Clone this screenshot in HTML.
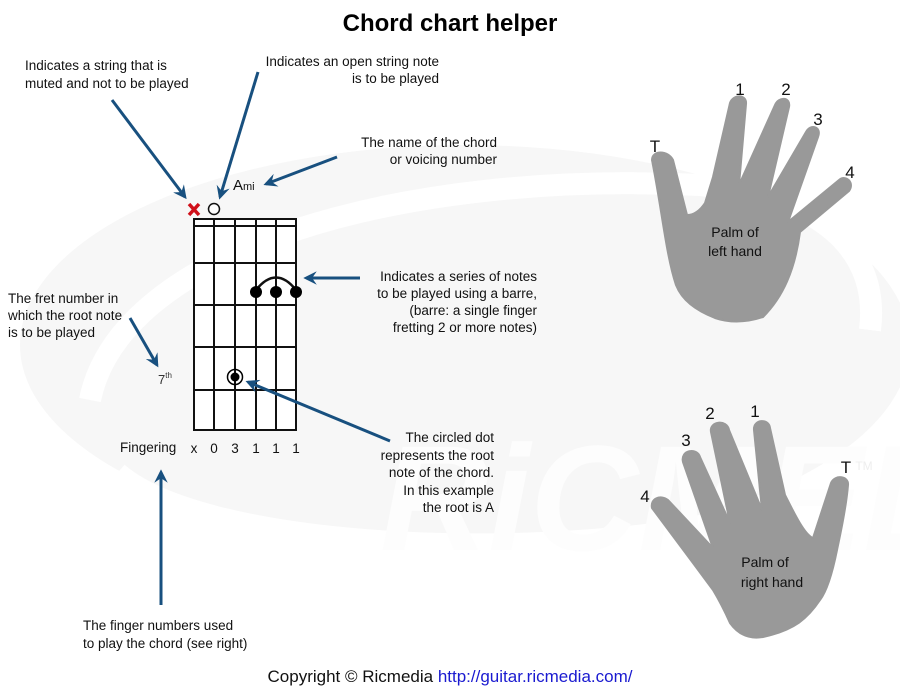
<!DOCTYPE html>
<html><head><meta charset="utf-8"><style>
html,body{margin:0;padding:0;background:#fff;}
svg{display:block;font-family:"Liberation Sans",sans-serif;}
</style></head><body>
<svg width="900" height="694" viewBox="0 0 900 694" xmlns="http://www.w3.org/2000/svg">
<defs>
<marker id="ah" viewBox="0 0 10 10" refX="8" refY="5" markerWidth="4.5" markerHeight="4.5" orient="auto-start-reverse">
<path d="M0,0 L10,5 L0,10 L3.5,5 z" fill="#18507f"/>
</marker>
</defs>
<!-- watermark -->
<ellipse cx="465" cy="345" rx="445" ry="200" fill="#f7f7f7"/>
<path d="M90,400 C120,250 400,170 700,185 C820,195 880,250 870,330" fill="none" stroke="#fff" stroke-width="22"/>
<path d="M120,470 C200,540 500,560 720,520" fill="none" stroke="#fff" stroke-width="14"/>
<text x="380" y="550" font-size="150" font-weight="bold" font-style="italic" fill="#fdfdfd">RiCMEDIA</text>

<text x="450" y="31" text-anchor="middle" font-size="24" font-weight="bold" fill="#000">Chord chart helper</text>

<g font-size="13.5" fill="#111">
<text x="25" y="70">Indicates a string that is</text>
<text x="25" y="88">muted and not to be played</text>
<text x="439" y="66" text-anchor="end">Indicates an open string note</text>
<text x="439" y="83" text-anchor="end">is to be played</text>
<text x="497" y="147" text-anchor="end">The name of the chord</text>
<text x="497" y="164" text-anchor="end">or voicing number</text>
<text x="537" y="281" text-anchor="end">Indicates a series of notes</text>
<text x="537" y="298" text-anchor="end">to be played using a barre,</text>
<text x="537" y="315" text-anchor="end">(barre: a single finger</text>
<text x="537" y="332" text-anchor="end">fretting 2 or more notes)</text>
<text x="8" y="303">The fret number in</text>
<text x="8" y="320">which the root note</text>
<text x="8" y="337">is to be played</text>
<text x="494" y="442" text-anchor="end">The circled dot</text>
<text x="494" y="460" text-anchor="end">represents the root</text>
<text x="494" y="477" text-anchor="end">note of the chord.</text>
<text x="494" y="495" text-anchor="end">In this example</text>
<text x="494" y="512" text-anchor="end">the root is A</text>
<text x="83" y="630">The finger numbers used</text>
<text x="83" y="648">to play the chord (see right)</text>
<text x="120" y="452">Fingering</text>
</g>
<g font-size="13.5" fill="#111" text-anchor="middle">
<text x="194" y="453">x</text><text x="214" y="453">0</text><text x="235" y="453">3</text>
<text x="256" y="453">1</text><text x="276" y="453">1</text><text x="296" y="453">1</text>
</g>
<text x="158" y="384" font-size="13" fill="#333">7<tspan font-size="8" dy="-6">th</tspan></text>
<text x="233" y="190" font-size="15" fill="#111">A<tspan font-size="11">mi</tspan></text>

<!-- fretboard -->
<g stroke="#111" stroke-width="2" fill="none">
<rect x="194" y="219" width="102" height="211" fill="#fff"/>
<line x1="194" y1="226" x2="296" y2="226"/>
<line x1="194" y1="263" x2="296" y2="263"/>
<line x1="194" y1="305" x2="296" y2="305"/>
<line x1="194" y1="347" x2="296" y2="347"/>
<line x1="194" y1="390" x2="296" y2="390"/>
<line x1="214" y1="219" x2="214" y2="430"/>
<line x1="235" y1="219" x2="235" y2="430"/>
<line x1="256" y1="219" x2="256" y2="430"/>
<line x1="276" y1="219" x2="276" y2="430"/>
<path d="M256,290 Q276,265 296,290" stroke-width="2.5"/>
</g>
<g fill="#000">
<circle cx="256" cy="292" r="6"/><circle cx="276" cy="292" r="6"/><circle cx="296" cy="292" r="6"/>
<circle cx="235" cy="377" r="4.5"/>
</g>
<circle cx="235" cy="377" r="7.5" fill="none" stroke="#000" stroke-width="1.5"/>
<circle cx="214" cy="209" r="5.5" fill="#fff" stroke="#111" stroke-width="1.5"/>
<g stroke="#d0101a" stroke-width="3.5">
<line x1="189" y1="204" x2="199" y2="215"/><line x1="199" y1="204" x2="189" y2="215"/>
</g>

<!-- arrows -->
<g stroke="#18507f" stroke-width="3" fill="none" marker-end="url(#ah)">
<line x1="112" y1="100" x2="185" y2="197"/>
<line x1="258" y1="72" x2="220" y2="197"/>
<line x1="337" y1="157" x2="266" y2="184"/>
<line x1="360" y1="278" x2="306" y2="278"/>
<line x1="130" y1="318" x2="157" y2="365"/>
<line x1="390" y1="441" x2="248" y2="382"/>
<line x1="161" y1="605" x2="161" y2="472"/>
</g>

<!-- left hand -->
<path fill="#999" stroke="#999" stroke-width="2" stroke-linejoin="round" d="M652,160 C652,150 668,150 673,160 L687,215 Q697,215 705,203 L713,177 L730,103 C733,94 747,94 746,104 L739,185 L775,105 C779,96 791,97 789,107 L768,197 L806,132 C811,123 822,127 818,137 L788,222 L839,180 C846,174 855,183 849,191 L800,232 C795,270 783,297 763,317 C745,323 730,323 715,318 C695,310 682,300 676,285 C666,255 662,210 652,160 Z"/>
<g font-size="14" fill="#111" text-anchor="middle">
<text x="655" y="152" font-size="17">T</text>
<text x="740" y="95" font-size="17">1</text>
<text x="786" y="95" font-size="17">2</text>
<text x="818" y="125" font-size="17">3</text>
<text x="850" y="178" font-size="17">4</text>
<text x="735" y="237">Palm of</text>
<text x="735" y="256">left hand</text>
</g>

<!-- right hand -->
<path fill="#999" stroke="#999" stroke-width="2" stroke-linejoin="round" d="M652,508 C650,499 660,494 668,500 L713,548 L683,462 C680,450 697,447 700,457 L730,523 L711,432 C709,421 727,419 729,430 L762,510 L754,430 C753,419 769,418 770,428 L785,495 C795,515 805,535 813,538 L831,483 C835,474 849,476 848,485 C846,510 840,535 837,550 C832,575 826,592 820,600 C808,618 795,630 763,637 C745,640 735,630 730,623 C722,605 716,595 713,590 L693,563 Z"/>
<g font-size="14" fill="#111" text-anchor="middle">
<text x="645" y="502" font-size="17">4</text>
<text x="686" y="446" font-size="17">3</text>
<text x="710" y="419" font-size="17">2</text>
<text x="755" y="417" font-size="17">1</text>
<text x="846" y="473" font-size="17">T</text>
<text x="864" y="470" font-size="12" fill="#eee">TM</text>
<text x="765" y="567">Palm of</text>
<text x="772" y="587">right hand</text>
</g>

<text x="450" y="682" text-anchor="middle" font-size="17" fill="#111">Copyright © Ricmedia <tspan fill="#1a1ad0">http://guitar.ricmedia.com/</tspan></text>
</svg>
</body></html>
